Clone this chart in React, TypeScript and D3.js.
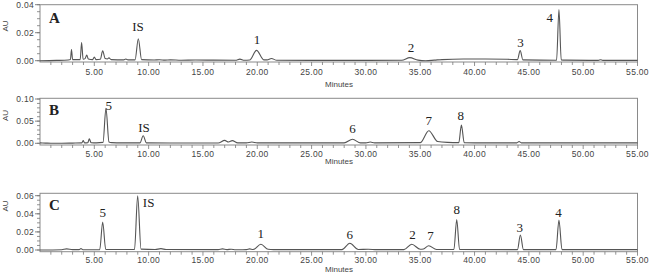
import React from "react";
import * as d3 from "d3";

// ---------- DATA (retention time in minutes, absorbance in AU) ----------
const traceA: [number, number][] = [
  [0, 0], [1.5, 0.0002], [2.6, 0.0005], [2.8, 0.0008], [2.9, 0.008], [3.0, 0.0008],
  [3.7, 0.0008], [3.83, 0.013], [3.97, 0.001], [4.15, 0.0015], [4.3, 0.004], [4.45, 0.0012],
  [4.85, 0.0008], [5.0, 0.0026], [5.15, 0.0008], [5.55, 0.001], [5.77, 0.007], [6.0, 0.0015],
  [6.2, 0.0012], [6.35, 0.002], [6.55, 0.0008], [7.7, 0.0006], [7.9, 0.0012], [8.1, 0.0006],
  [8.75, 0.0006], [9.05, 0.0157], [9.35, 0.0008], [10.5, 0.0005], [11, 0.0007], [11.5, 0.0004],
  [12, 0.0006], [13, 0.0003], [14.3, 0.0005], [16, 0.0004], [18, 0.0003], [18.4, 0.0011],
  [18.8, 0.0003], [19.3, 0.0005], [19.93, 0.0074], [20.6, 0.0006], [20.9, 0.0006], [21.3, 0.0016],
  [21.8, 0.0003], [25, 0.0002], [30, 0.0002], [33.3, 0.0003], [34.04, 0.0022], [34.8, 0.0004],
  [35.5, 0.0], [36.3, 0.0004], [37, 0.0008], [39, 0.0012], [41, 0.0012], [43, 0.001],
  [43.95, 0.0008], [44.2, 0.0072], [44.45, 0.0006], [47.55, 0.0003], [47.77, 0.0366],
  [47.98, 0.0006], [48.4, 0.0004], [51.4, 0.0002], [51.6, 0.0007], [51.8, 0.0002], [55, 0.0002],
];

const traceB: [number, number][] = [
  [0, 0.001], [0.5, 0.0005], [1, 0], [2, 0], [3, 0.0005], [3.85, 0.001], [3.98, 0.006],
  [4.1, 0.001], [4.4, 0.0015], [4.54, 0.01], [4.7, 0.0015], [5.2, 0.001], [5.8, 0.002],
  [6.07, 0.079], [6.35, 0.003], [6.6, 0.0015], [7.5, 0.001], [9.2, 0.001], [9.5, 0.017],
  [9.8, 0.001], [12, 0.0008], [16.4, 0.0008], [17.0, 0.0065], [17.35, 0.003], [17.7, 0.006],
  [18.2, 0.001], [19.0, 0.001], [19.5, 0.003], [20, 0.001], [25, 0.001], [28.0, 0.001],
  [28.77, 0.009], [29.5, 0.001], [30.0, 0.001], [30.4, 0.003], [30.8, 0.001], [35.0, 0.0015],
  [35.79, 0.0285], [36.6, 0.004], [37.5, 0.002], [38.55, 0.0015], [38.79, 0.041], [39.05, 0.0015],
  [41, 0.001], [43.9, 0.001], [44.1, 0.004], [44.3, 0.001], [55, 0.001],
];

const traceC: [number, number][] = [
  [0, 0], [2, 0.0003], [2.45, 0.0012], [3, 0.0004], [3.6, 0.0004], [3.77, 0.0015], [3.95, 0.0003],
  [5.5, 0.0004], [5.77, 0.031], [6.05, 0.0006], [8.7, 0.0005], [8.99, 0.06], [9.3, 0.001],
  [10.6, 0.0005], [11.13, 0.0015], [11.6, 0.0005], [16.4, 0.0004], [16.8, 0.0012], [17.2, 0.0004],
  [17.6, 0.0009], [18, 0.0003], [19.0, 0.0004], [19.3, 0.0012], [19.6, 0.0005], [19.7, 0.0008],
  [20.33, 0.0063], [21.0, 0.0008], [21.5, 0.0004], [27.8, 0.0004], [28.52, 0.0074], [29.3, 0.0006],
  [30.2, 0.0008], [31, 0.0004], [33.5, 0.0004], [34.22, 0.0063], [35.0, 0.0008], [35.3, 0.0012],
  [35.78, 0.0047], [36.5, 0.0006], [38.1, 0.0005], [38.36, 0.0337], [38.62, 0.0005],
  [43.95, 0.0004], [44.22, 0.0165], [44.5, 0.0004], [47.5, 0.0004], [47.77, 0.033],
  [48.05, 0.0004], [55, 0.0004],
];

// peak labels: [text, time, AU at label baseline]
const labelsA: [string, number, number][] = [
  ["IS", 9.02, 0.0212], ["1", 19.97, 0.0119], ["2", 34.14, 0.0062], ["3", 44.23, 0.0101], ["4", 46.93, 0.028],
];
const labelsB: [string, number, number][] = [
  ["5", 6.32, 0.0752], ["IS", 9.57, 0.0266], ["6", 28.77, 0.0233], ["7", 35.79, 0.0402], ["8", 38.74, 0.0526],
];
const labelsC: [string, number, number][] = [
  ["5", 5.77, 0.037], ["IS", 10.0, 0.0475], ["1", 20.33, 0.0138], ["6", 28.52, 0.0122],
  ["2", 34.29, 0.0122], ["7", 35.95, 0.011], ["8", 38.37, 0.0398], ["3", 44.17, 0.0204], ["4", 47.73, 0.037],
];

const timeMajorTicks = [5, 10, 15, 20, 25, 30, 35, 40, 45, 50, 55];
const yTicksA = [0, 0.02, 0.04];
const yTicksB = [0, 0.05, 0.1];
const yTicksC = [0, 0.02, 0.04, 0.06];

// ---------- LAYOUT ----------
const W = 661, H = 276;
const X0 = 40, X1 = 637.5;
const x = d3.scaleLinear().domain([0, 55]).range([X0, X1]);

type Panel = {
  letter: string; trace: [number, number][]; labels: [string, number, number][];
  yTicks: number[]; yMinor: number; yMax: number; top: number; zeroY: number; maxY: number;
  bottom: number; tickLabelY: number; minutesY: number; auY: number; letterY: number;
};

const panels: Panel[] = [
  { letter: "A", trace: traceA, labels: labelsA, yTicks: yTicksA, yMinor: 0.005, yMax: 0.04,
    top: 4.7, zeroY: 60.7, maxY: 4.7, bottom: 62, tickLabelY: 75, minutesY: 87, auY: 26, letterY: 23 },
  { letter: "B", trace: traceB, labels: labelsB, yTicks: yTicksB, yMinor: 0.01, yMax: 0.1,
    top: 98.3, zeroY: 143.3, maxY: 99, bottom: 145, tickLabelY: 156.5, minutesY: 164, auY: 115.5, letterY: 115 },
  { letter: "C", trace: traceC, labels: labelsC, yTicks: yTicksC, yMinor: 0.005, yMax: 0.06,
    top: 193.3, zeroY: 250, maxY: 195.7, bottom: 251.7, tickLabelY: 263, minutesY: 272, auY: 206, letterY: 210 },
];

const fmt = d3.format(".2f");
const sans = "Arial, 'Liberation Sans', sans-serif";
const serif = "'Times New Roman', 'Liberation Serif', serif";
const textCol = "#444";

function PanelView({ p }: { p: Panel }) {
  const y = d3.scaleLinear().domain([0, p.yMax]).range([p.zeroY, p.maxY]);
  const line = d3.line<[number, number]>().x((d) => x(d[0])).y((d) => y(d[1])).curve(d3.curveMonotoneX);
  const minorX = d3.range(1, 56, 1);
  const minorY = d3.range(0, p.yMax + 1e-9, p.yMinor);
  return (
    <g>
      <rect x={X0} y={p.top} width={X1 - X0} height={p.bottom - p.top} fill="none" stroke="#8a8a8a" strokeWidth={1} />
      {/* x ticks */}
      {minorX.map((t) => (
        <line key={"mx" + t} x1={x(t)} x2={x(t)} y1={p.bottom} y2={p.bottom + (t % 5 === 0 ? 4 : 3)} stroke="#777" strokeWidth={0.8} />
      ))}
      {timeMajorTicks.map((t) => (
        <text key={"xl" + t} x={x(t)} y={p.tickLabelY} textAnchor="middle" fontFamily={sans} fontSize={8.5} letterSpacing={0.3} fill={textCol}>
          {fmt(t)}
        </text>
      ))}
      <text x={339} y={p.minutesY} textAnchor="middle" fontFamily={sans} fontSize={8} fill={textCol}>Minutes</text>
      {/* y ticks */}
      {minorY.map((v, i) => (
        <line key={"my" + i} x1={X0 - 3} x2={X0} y1={y(v)} y2={y(v)} stroke="#777" strokeWidth={0.8} />
      ))}
      {p.yTicks.map((v) => (
        <g key={"yt" + v}>
          <line x1={X0 - 5} x2={X0} y1={y(v)} y2={y(v)} stroke="#777" strokeWidth={0.9} />
          <text x={X0 - 6} y={y(v) + 3} textAnchor="end" fontFamily={sans} fontSize={8.5} letterSpacing={0.3} fill={textCol}>
            {fmt(v)}
          </text>
        </g>
      ))}
      <text transform={`translate(8,${p.auY}) rotate(-90)`} textAnchor="middle" fontFamily={sans} fontSize={8} fill={textCol}>AU</text>
      <text x={49} y={p.letterY} fontFamily={serif} fontWeight="bold" fontSize={15} fill="#222">{p.letter}</text>
      <path d={line(p.trace) || ""} fill="none" stroke="#555" strokeWidth={1.1} />
      {p.labels.map(([s, t, v], i) => (
        <text key={"pl" + i} x={x(t)} y={y(v)} textAnchor="middle" fontFamily={serif} fontSize={13} fill="#222">{s}</text>
      ))}
    </g>
  );
}

export default function App() {
  return (
    <svg width={W} height={H} style={{ position: "absolute", left: 0, top: 0, background: "#fff" }}>
      <rect width={W} height={H} fill="#fff" />
      {panels.map((p) => (
        <PanelView key={p.letter} p={p} />
      ))}
    </svg>
  );
}
